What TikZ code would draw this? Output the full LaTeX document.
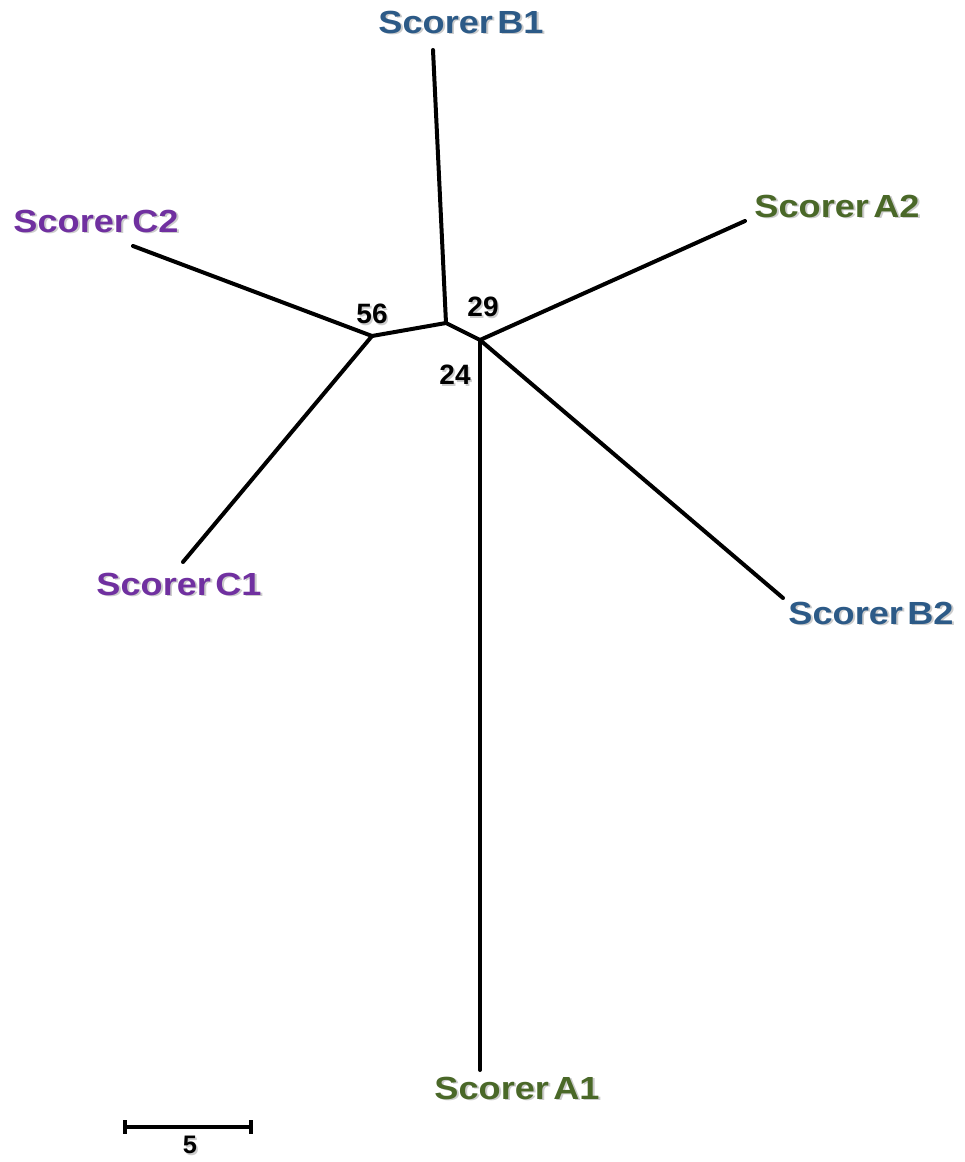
\documentclass[tikz,border=0pt]{standalone}
\usepackage{fontspec}
\setmainfont{Liberation Sans}
\definecolor{scorerA}{RGB}{74,104,40}
\definecolor{scorerB}{RGB}{44,90,135}
\definecolor{scorerC}{RGB}{112,48,160}
% text with a soft grey drop shadow behind it
\newcommand\shadowed[1]{\makebox[0pt][l]{\hspace{1.3pt}\raisebox{-1.3pt}{\textcolor{black!20}{#1}}}#1}
\newcommand\scorer[1]{\shadowed{Scorer\hspace{0.12em}#1}}
\begin{document}
\begin{tikzpicture}[x=0.75pt,y=-0.75pt,
  branch/.style={line width=3pt,line cap=round,line join=round},
  leaflabel/.style={font=\fontsize{24}{26}\selectfont\bfseries,inner sep=0pt,xscale=1.13},
  support/.style={font=\fontsize{21}{23}\selectfont\bfseries,inner sep=0pt},
  scalebar/.style={line width=3.4pt}]
\useasboundingbox (0,0) rectangle (964,1162);

% internal nodes of the tree
\coordinate (n1) at (372,336);
\coordinate (n2) at (446,323);
\coordinate (n3) at (480,340);

% tips of the leaf branches
\coordinate (tB1) at (433,50);
\coordinate (tC2) at (133,246);
\coordinate (tC1) at (183,562);
\coordinate (tA2) at (745,221);
\coordinate (tB2) at (783,598);
\coordinate (tA1) at (480,1070);

% branches
\draw[branch] (n1) -- (n2) -- (n3);
\draw[branch] (n2) -- (tB1);
\draw[branch] (n1) -- (tC2);
\draw[branch] (n1) -- (tC1);
\draw[branch] (n3) -- (tA2);
\draw[branch] (n3) -- (tB2);
\draw[branch] (n3) -- (tA1);

% leaf labels
\node[leaflabel,text=scorerB] (lB1) at (461,23) {\scorer{B1}};
\node[leaflabel,text=scorerC] (lC2) at (96,222) {\scorer{C2}};
\node[leaflabel,text=scorerA] (lA2) at (837,207) {\scorer{A2}};
\node[leaflabel,text=scorerC] (lC1) at (179,585) {\scorer{C1}};
\node[leaflabel,text=scorerB] (lB2) at (871,614) {\scorer{B2}};
\node[leaflabel,text=scorerA] (lA1) at (517,1089) {\scorer{A1}};

% bootstrap support values
\node[support] (s56) at (372,315) {\shadowed{56}};
\node[support] (s29) at (483,308) {\shadowed{29}};
\node[support] (s24) at (455,376) {\shadowed{24}};

% scale bar
\coordinate (sbL) at (125,1127);
\coordinate (sbR) at (251,1127);
\draw[scalebar] (sbL) -- (sbR);
\draw[scalebar] ([yshift=-5pt]sbL) -- ([yshift=5pt]sbL);
\draw[scalebar] ([yshift=-5pt]sbR) -- ([yshift=5pt]sbR);
\node[support,font=\fontsize{19}{21}\selectfont\bfseries] (sbT) at (190,1146) {\shadowed{5}};
\end{tikzpicture}
\end{document}
